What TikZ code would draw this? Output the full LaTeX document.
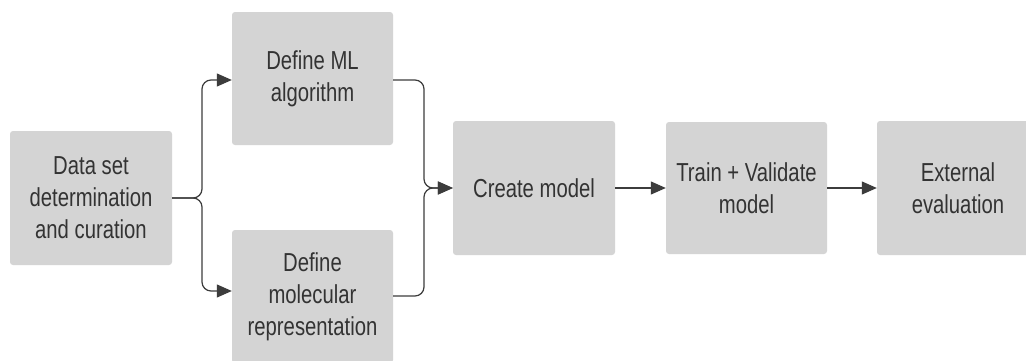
\documentclass[tikz,border=0pt]{standalone}
\usepackage{fontspec}
\setmainfont{Liberation Sans}[FakeStretch=0.78]
\usetikzlibrary{arrows.meta}
\definecolor{boxgray}{HTML}{D4D4D4}
\definecolor{txtgray}{HTML}{333333}
\definecolor{linegray}{HTML}{3C3C3C}
\tikzset{
  stepbox/.style={rectangle, rounded corners=3pt, fill=boxgray, draw=none,
    text=txtgray, align=center, font=\fontsize{26}{32}\selectfont,
    inner sep=0pt, minimum width=#1, minimum height=134pt},
  stepbox/.default=162pt,
  conn/.style={draw=linegray, line width=1.2pt,
    -{Triangle[length=15pt,width=13pt]}},
}
\begin{document}
\begin{tikzpicture}[x=1pt,y=-1pt]
\useasboundingbox[fill=white] (0,0) rectangle (1026,360);
\node[stepbox] (data) at (91,198) {Data set\\determination\\and curation};
\node[stepbox=161pt, minimum height=133pt] (ml) at (312.5,78.5) {Define ML\\algorithm};
\node[stepbox=161pt, minimum height=133pt] (mol) at (312.5,296.5) {Define\\molecular\\representation};
\node[stepbox] (create) at (534,188) {Create model};
\node[stepbox=161pt, minimum height=132pt] (train) at (746.5,188) {Train + Validate\\model};
\node[stepbox] (ext) at (958,188) {External\\evaluation};
\coordinate (split) at (202,198);
\coordinate (join) at (424,188);
\draw[conn, rounded corners=9pt] (data.east) -- (split) |- ([yshift=-1.5pt]ml.west);
\draw[conn, rounded corners=9pt] (data.east) -- (split) |- ([yshift=5.5pt]mol.west);
\draw[conn, rounded corners=9pt] ([yshift=-1.5pt]ml.east) -| (join) -- (create.west);
\draw[conn, rounded corners=9pt] ([yshift=0.5pt]mol.east) -| (join) -- (create.west);
\draw[conn] (create) -- (train);
\draw[conn] (train) -- (ext);
\end{tikzpicture}
\end{document}
